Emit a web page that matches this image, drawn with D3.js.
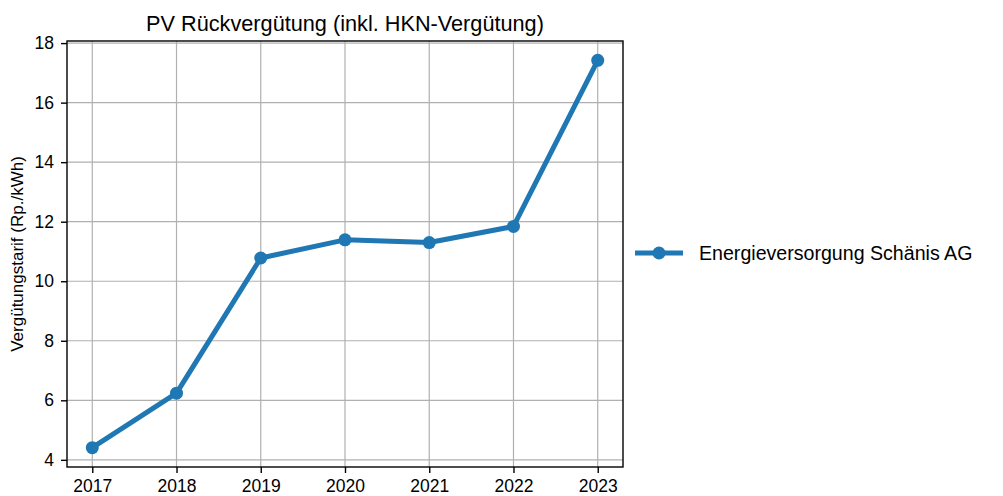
<!DOCTYPE html>
<html>
<head>
<meta charset="utf-8">
<script src="https://cdn.jsdelivr.net/npm/d3@7"></script>
<style>
  body { margin: 0; background: #fff; }
  text { font-family: "Liberation Sans", Arial, sans-serif; fill: #000; }
</style>
</head>
<body>
<div id="vis"></div>
<script>
// data
const years = [2017, 2018, 2019, 2020, 2021, 2022, 2023]
const tariff = [4.41, 6.24, 10.78, 11.39, 11.30, 11.84, 17.42]
const yTicks = [4, 6, 8, 10, 12, 14, 16, 18]
const seriesName = "Energieversorgung Schänis AG"

const margin = { left: 67, top: 41, right: 380, bottom: 29 }
const W = 1003, H = 496
const width = W - margin.left - margin.right
const height = H - margin.top - margin.bottom
const color = "#1f77b4"

let svg = d3.select("#vis").append("svg")
  .attr("width", W)
  .attr("height", H)

// matplotlib-style 5% padding
const xPad = (d3.max(years) - d3.min(years)) * 0.05
const yPad = (d3.max(tariff) - d3.min(tariff)) * 0.05

let x = d3.scaleLinear()
  .domain([d3.min(years) - xPad, d3.max(years) + xPad])
  .range([0, width])
let y = d3.scaleLinear()
  .domain([d3.min(tariff) - yPad, d3.max(tariff) + yPad])
  .range([height, 0])

let g = svg.append("g").attr("transform", `translate(${margin.left},${margin.top})`)

// grid
g.append("g").selectAll("line").data(years).enter().append("line")
  .attr("x1", d => x(d)).attr("x2", d => x(d))
  .attr("y1", 0).attr("y2", height)
  .attr("stroke", "#b0b0b0").attr("stroke-width", 1.2)
g.append("g").selectAll("line").data(yTicks).enter().append("line")
  .attr("x1", 0).attr("x2", width)
  .attr("y1", d => y(d)).attr("y2", d => y(d))
  .attr("stroke", "#b0b0b0").attr("stroke-width", 1.2)

// axes
let xAxis = d3.axisBottom(x).tickValues(years).tickFormat(d3.format("d")).tickSize(6).tickPadding(7)
let yAxis = d3.axisLeft(y).tickValues(yTicks).tickSize(6).tickPadding(7)

g.append("g").attr("transform", `translate(0,${height})`).call(xAxis)
  .call(a => a.select(".domain").remove())
  .selectAll("text").style("font-size", "17.5px").attr("font-family", null)
g.append("g").call(yAxis)
  .call(a => a.select(".domain").remove())
  .selectAll("text").style("font-size", "17.5px").attr("font-family", null)
g.selectAll(".tick line").attr("stroke", "#000").attr("stroke-width", 1.4)

// frame
g.append("rect")
  .attr("width", width).attr("height", height)
  .attr("fill", "none").attr("stroke", "#000").attr("stroke-width", 1.4)

// line + markers
let line = d3.line().x((d, i) => x(years[i])).y(d => y(d))
g.append("path").datum(tariff)
  .attr("d", line)
  .attr("fill", "none").attr("stroke", color)
  .attr("stroke-width", 5).attr("stroke-linejoin", "round")
g.append("g").selectAll("circle").data(tariff).enter().append("circle")
  .attr("cx", (d, i) => x(years[i]))
  .attr("cy", d => y(d))
  .attr("r", 6.5)
  .attr("fill", color)

// title and labels
svg.append("text")
  .attr("x", margin.left + width / 2).attr("y", 31)
  .attr("text-anchor", "middle").style("font-size", "21.7px")
  .text("PV Rückvergütung (inkl. HKN-Vergütung)")
svg.append("text")
  .attr("transform", `translate(23,${margin.top + height / 2}) rotate(-90)`)
  .attr("text-anchor", "middle").style("font-size", "17px")
  .text("Vergütungstarif (Rp./kWh)")

// legend
let leg = svg.append("g").attr("transform", `translate(635,253)`)
leg.append("line").attr("x1", 0).attr("x2", 48).attr("y1", 0).attr("y2", 0)
  .attr("stroke", color).attr("stroke-width", 5)
leg.append("circle").attr("cx", 24).attr("cy", 0).attr("r", 6.5).attr("fill", color)
leg.append("text").attr("x", 64).attr("y", 7)
  .style("font-size", "19.6px")
  .text(seriesName)
</script>
</body>
</html>
